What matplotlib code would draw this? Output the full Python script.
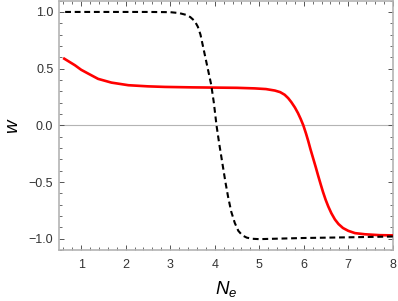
import matplotlib
matplotlib.use('Agg')
import matplotlib.pyplot as plt
from matplotlib.ticker import MultipleLocator

plt.rcParams['font.family'] = ['Liberation Sans', 'DejaVu Sans']
plt.rcParams['mathtext.fontset'] = 'custom'
plt.rcParams['mathtext.it'] = 'Liberation Sans:italic'
plt.rcParams['mathtext.rm'] = 'Liberation Sans'

# red solid curve
red_x = [0.62, 0.86, 1.0, 1.16, 1.38, 1.68, 2.06, 2.5, 2.88, 3.5, 4.0, 4.5,
         4.9, 5.15, 5.35, 5.47, 5.57, 5.65, 5.72, 5.8, 5.87, 5.93, 5.99, 6.05,
         6.10, 6.15, 6.21, 6.27, 6.32, 6.38, 6.43, 6.49, 6.55, 6.62, 6.70,
         6.78, 6.88, 7.0, 7.15, 7.37, 7.7, 8.0]
red_w = [0.588, 0.53, 0.49, 0.456, 0.41, 0.377, 0.354, 0.344, 0.339, 0.335,
         0.333, 0.331, 0.326, 0.32, 0.307, 0.293, 0.27, 0.24, 0.205, 0.158,
         0.108, 0.057, 0.0, -0.072, -0.138, -0.21, -0.29, -0.37, -0.44, -0.52,
         -0.585, -0.655, -0.715, -0.775, -0.83, -0.87, -0.905, -0.93, -0.95,
         -0.96, -0.968, -0.97]

# black dashed curve
blk_x = [0.64, 1.5, 2.5, 3.0, 3.2, 3.35, 3.45, 3.55, 3.62, 3.68, 3.74, 3.8,
         3.86, 3.92, 3.98, 4.04, 4.1, 4.17, 4.24, 4.3, 4.37, 4.45, 4.53, 4.62,
         4.72, 4.85, 5.0, 5.3, 6.0, 7.0, 8.0]
blk_w = [1.0, 1.0, 1.0, 0.998, 0.99, 0.975, 0.955, 0.92, 0.87, 0.8, 0.69, 0.58,
         0.47, 0.36, 0.2, 0.0, -0.16, -0.33, -0.5, -0.63, -0.76, -0.86, -0.93,
         -0.97, -0.99, -1.0, -1.003, -1.0, -0.993, -0.987, -0.98]

x_ticks = [1, 2, 3, 4, 5, 6, 7, 8]
y_ticks = [-1.0, -0.5, 0.0, 0.5, 1.0]

fig = plt.figure(figsize=(3.98, 3.01), dpi=100)
ax = fig.add_axes([0.148, 0.169, 0.839, 0.829])

ax.axhline(0, color='#b4b4b4', lw=0.8, zorder=1)
ax.plot(red_x, red_w, color='#ff0000', lw=1.9, zorder=3)
ax.plot(blk_x, blk_w, color='black', lw=1.5, dashes=(2.8, 1.8), zorder=4)

ax.set_xlim(0.5, 8)
ax.set_ylim(-1.1, 1.1)
ax.set_xticks(x_ticks)
ax.set_yticks(y_ticks)
ax.set_yticklabels(['%.1f' % v if v >= 0 else '\u2212%.1f' % -v for v in y_ticks])
ax.xaxis.set_minor_locator(MultipleLocator(0.2))
ax.yaxis.set_minor_locator(MultipleLocator(0.1))

for s in ax.spines.values():
    s.set_color('#b4b4b4')
    s.set_linewidth(1.2)

ax.tick_params(which='both', direction='in', top=True, right=True,
               color='#555555', labelsize=9, labelcolor='#333333')
ax.tick_params(which='major', length=3.5, width=0.7)
ax.tick_params(which='minor', length=2, width=0.6)
ax.tick_params(axis='x', pad=6.5)
ax.tick_params(axis='y', pad=4)

ax.set_xlabel('$N_e$', fontsize=13.5, labelpad=6)
ax.set_ylabel('$w$', fontsize=13.5, labelpad=5)

fig.savefig('out.png', dpi=100)
